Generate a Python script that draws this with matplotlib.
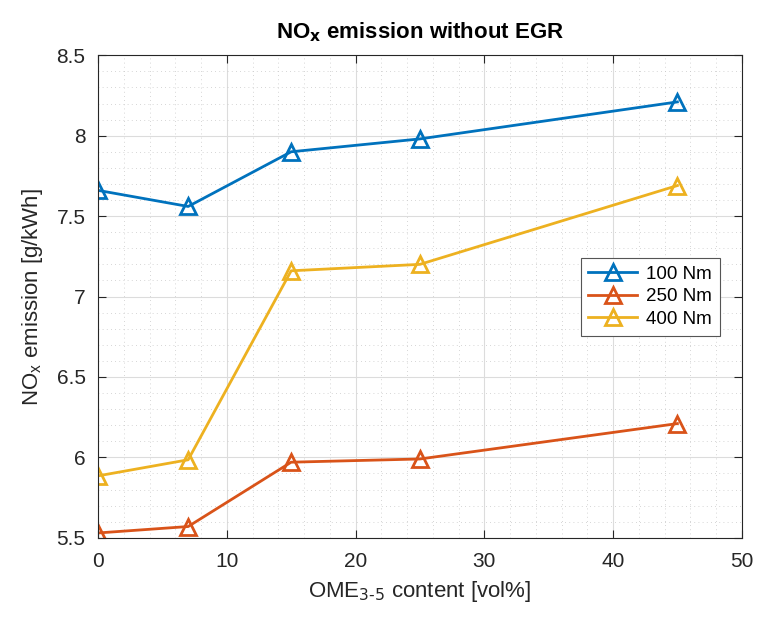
import numpy as np
import matplotlib
matplotlib.use("Agg")
import matplotlib.pyplot as plt
from matplotlib.ticker import MultipleLocator

# donnees
ome = [0, 7, 15, 25, 45]
nox_100 = [7.66, 7.56, 7.90, 7.98, 8.21]
nox_250 = [5.53, 5.57, 5.97, 5.99, 6.21]
nox_400 = [5.885, 5.985, 7.16, 7.20, 7.69]
labels = ["100 Nm", "250 Nm", "400 Nm"]
couleurs = ["#0072BD", "#D95319", "#EDB120"]

plt.rcParams['font.family'] = ['Liberation Sans', 'DejaVu Sans']

fig = plt.figure(figsize=(7.6, 6.21), dpi=100)
ax = fig.add_axes([0.129, 0.134, 0.847, 0.777])

for y, lab, c in zip([nox_100, nox_250, nox_400], labels, couleurs):
    ax.plot(ome, y, color=c, lw=2, marker='^', ms=11, mfc='none', mew=2, label=lab)

ax.set_xlim(0, 50)
ax.set_ylim(5.5, 8.5)
ax.xaxis.set_major_locator(MultipleLocator(10))
ax.xaxis.set_minor_locator(MultipleLocator(2))
ax.yaxis.set_major_locator(MultipleLocator(0.5))
ax.yaxis.set_minor_locator(MultipleLocator(0.1))
ax.set_yticks([5.5, 6, 6.5, 7, 7.5, 8, 8.5])
ax.set_yticklabels(["5.5", "6", "6.5", "7", "7.5", "8", "8.5"])

ax.grid(which='major', color='#dcdcdc', lw=0.8)
ax.grid(which='minor', color='#c8c8c8', lw=0.6, ls=(0, (1, 4)))
ax.set_axisbelow(True)

for s in ax.spines.values():
    s.set_color('#262626')
    s.set_linewidth(0.8)
ax.tick_params(which='both', direction='in', top=True, right=True, colors='#262626', labelsize=15)
ax.tick_params(which='major', length=6)
ax.tick_params(axis='x', which='major', pad=10)
ax.tick_params(axis='y', which='major', pad=9)
ax.tick_params(which='minor', length=0)

ax.set_xlabel("OME$_{3\\text{-}5}$ content [vol%]", fontsize=16, color='#262626', labelpad=6)
ax.set_ylabel("NO$_\\mathregular{x}$ emission [g/kWh]", fontsize=16, color='#262626', labelpad=8)
ax.set_title("NO$_\\mathbf{x}$ emission without EGR", fontsize=16, fontweight='bold', pad=12)

leg = ax.legend(loc='upper right', bbox_to_anchor=(0.966, 0.58), borderaxespad=0,
                fontsize=13.5, fancybox=False, edgecolor='#555555', framealpha=1,
                handlelength=2.6, handletextpad=0.5, borderpad=0.4, labelspacing=0.3)
leg.get_frame().set_linewidth(0.8)

fig.savefig("out.png", dpi=100)
